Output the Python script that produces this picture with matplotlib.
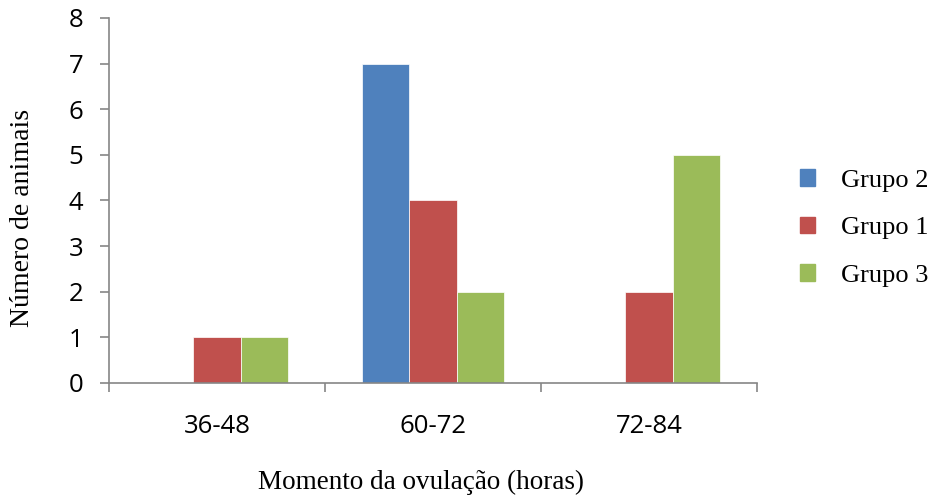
import numpy as np
import matplotlib.pyplot as plt
from matplotlib.patches import Patch

categorias = ['36-48', '60-72', '72-84']
grupo2 = [0, 7, 0]
grupo1 = [1, 4, 2]
grupo3 = [1, 2, 5]

azul = '#4F81BD'
vermelho = '#C0504D'
verde = '#9BBB59'
cinza = '#868686'

dpi = 100
fig = plt.figure(figsize=(934 / dpi, 497 / dpi), dpi=dpi)
ax = fig.add_axes([0.1167, 0.2294, 0.6938, 0.7344])

xs = np.arange(len(categorias))
w = 0.22
ax.bar(xs - w, grupo2, w, color=azul, edgecolor='white', linewidth=0.5)
ax.bar(xs, grupo1, w, color=vermelho, edgecolor='white', linewidth=0.5)
ax.bar(xs + w, grupo3, w, color=verde, edgecolor='white', linewidth=0.5)

ax.set_xlim(-0.5, 2.5)
ax.set_ylim(0, 8)
ax.set_yticks(range(0, 9))
ax.set_xticks(xs)
ax.set_xticklabels(categorias)
ax.set_xticks([-0.5, 0.5, 1.5, 2.5], minor=True)
ax.tick_params(axis='x', which='major', length=0, pad=22)
ax.tick_params(axis='x', which='minor', length=6.5, color=cinza, width=1.2)
ax.tick_params(axis='y', length=6.5, color=cinza, width=1.2, pad=12)
for lab in ax.get_xticklabels() + ax.get_yticklabels():
    lab.set_fontfamily('Open Sans')
    lab.set_fontsize(18.5)

for s in ['top', 'right']:
    ax.spines[s].set_visible(False)
for s in ['left', 'bottom']:
    ax.spines[s].set_color(cinza)
    ax.spines[s].set_linewidth(1.2)

# titulos dos eixos (posicao como no original)
fig.text(23 / dpi / 9.34, 1 - 218 / 497, 'Número de animais', rotation=90,
         ha='center', va='center', fontfamily='Liberation Serif', fontsize=20)
fig.text(421 / 934, 1 - 482 / 497, 'Momento da ovulação (horas)',
         ha='center', va='center', fontfamily='Liberation Serif', fontsize=19.5)

handles = [Patch(color=azul), Patch(color=vermelho), Patch(color=verde)]
fig.legend(handles, ['Grupo 2', 'Grupo 1', 'Grupo 3'], loc='center left',
           bbox_to_anchor=(0.856, 0.541), frameon=False, borderaxespad=0, borderpad=0,
           prop={'family': 'Liberation Serif', 'size': 19},
           handlelength=0.58, handleheight=0.58, labelspacing=0.95, handletextpad=1.0)

fig.savefig('out.png', dpi=dpi)
